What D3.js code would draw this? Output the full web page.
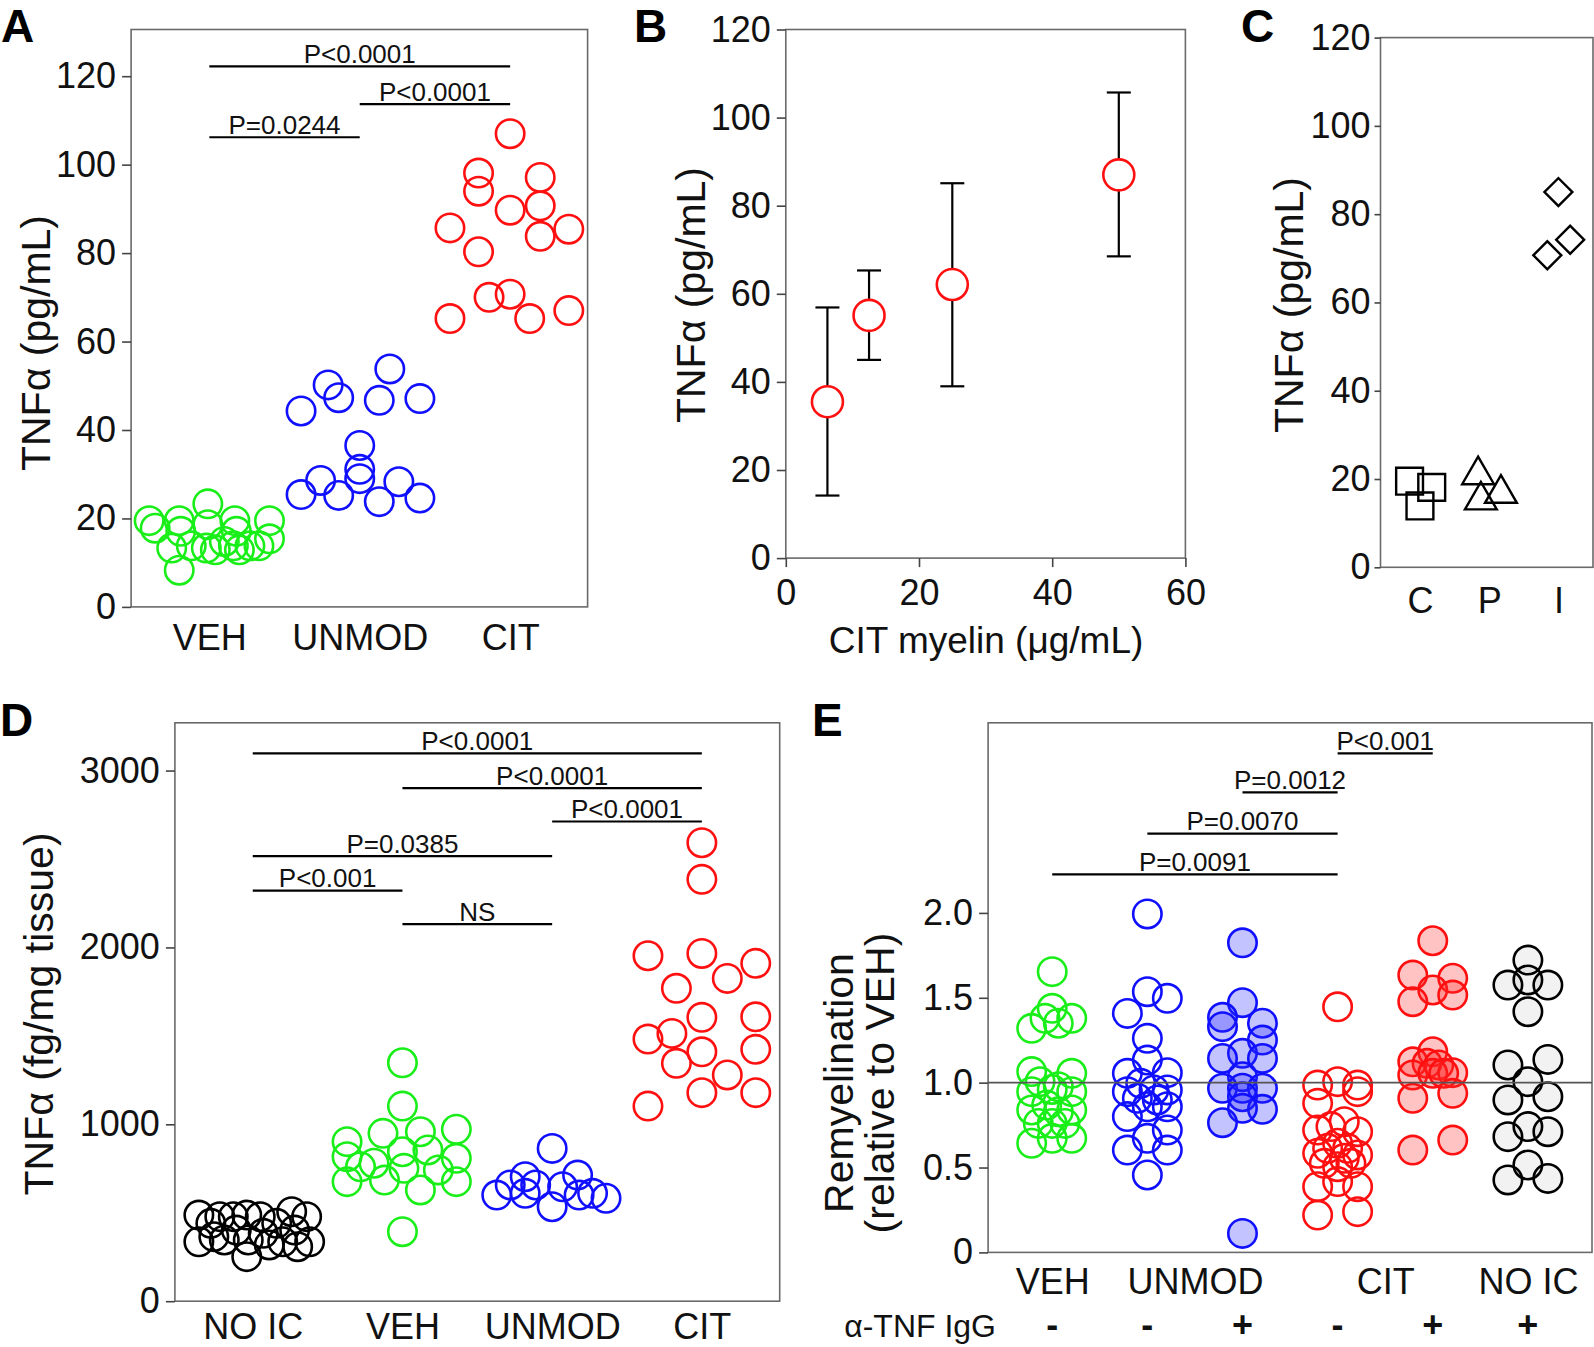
<!DOCTYPE html>
<html><head><meta charset="utf-8">
<script src="https://cdn.jsdelivr.net/npm/d3@7"></script>
<style>body{margin:0;background:#fff} svg{display:block}</style>
</head><body><script>
// ---------------- DATA ----------------
// Panel A
const aCategories = ['VEH','UNMOD','CIT'];
const aYTicks = [0,20,40,60,80,100,120];
const aVehValues = [19.5,17.8,19.5,17.1,13.3,8.3,13.8,23.3,18.6,13.3,12.9,14.8,19.5,17.1,13.8,12.9,13.8,13.8,19.5,15.4];
const aVehJitter = [-0.40,-0.36,-0.20,-0.19,-0.25,-0.20,-0.12,-0.01,-0.01,-0.02,0.04,0.10,0.17,0.18,0.16,0.20,0.27,0.33,0.40,0.40];
const aUnmodValues = [44.3,50.2,47.3,53.8,46.7,47.1,36.5,31.1,29.0,28.6,25.4,25.2,23.8,28.3,24.6];
const aUnmodJitter = [-0.39,-0.21,-0.14,0.20,0.13,0.40,0,0,0,-0.26,-0.39,-0.14,0.13,0.26,0.40];
const aCitValues = [107.0,98.1,94.0,97.1,89.7,90.7,85.7,85.4,83.8,80.3,70.0,70.7,65.2,65.2,67.0];
const aCitJitter = [0,-0.21,-0.21,0.20,0,0.20,-0.40,0.39,0.20,-0.21,-0.14,0,-0.40,0.13,0.39];
const aSigFrom = [0,1,0], aSigTo = [2,2,1], aSigLevel = [122.2,113.7,106.2];
const aSigLabels = ['P<0.0001','P<0.0001','P=0.0244'];

// Panel B
const bDose = [6.25,12.5,25,50];
const bMean = [35.5,55.1,62.1,87.0];
const bUpper = [56.9,65.3,85.1,105.7];
const bLower = [14.2,45.0,39.0,68.5];
const bYTicks = [0,20,40,60,80,100,120];
const bXTicks = [0,20,40,60];

// Panel C
const cCategories = ['C','P','I'];
const cYTicks = [0,20,40,60,80,100,120];
const cSquareValues = [19.5,18.1,13.9], cSquareJitter = [-0.15,0.17,0];
const cTriangleValues = [20.9,15.2,16.7], cTriangleJitter = [-0.16,-0.12,0.17];
const cDiamondValues = [85.0,74.2,70.7], cDiamondJitter = [0,0.17,-0.16];

// Panel D
const dCategories = ['NO IC','VEH','UNMOD','CIT'];
const dYTicks = [0,1000,2000,3000];
const dNoIcValues = [487,336,440,365,478,346,478,402,487,346,252,478,384,318,440,336,506,402,478,336,308];
const dNoIcJitter = [-0.36,-0.36,-0.28,-0.26,-0.22,-0.19,-0.13,-0.11,-0.04,-0.03,-0.04,0.05,0.07,0.11,0.16,0.20,0.26,0.28,0.36,0.38,0.30];
const dVehValues = [1348,1103,949,958,972,902,817,676,845,855,808,780,751,742,685,629,676,760,393];
const dVehJitter = [0,0,-0.13,0.12,0.36,-0.37,-0.37,-0.37,0,0.17,0.36,-0.19,0.01,0.24,-0.12,0.12,0.36,-0.28,0];
const dUnmodValues = [864,704,713,600,657,657,610,534,647,600,610,582];
const dUnmodJitter = [0,-0.18,0.17,-0.37,-0.28,-0.11,-0.18,0,0.07,0.18,0.27,0.36];
const dCitValues = [2592,2385,1953,1966,1910,1825,1769,1605,1608,1482,1514,1410,1424,1345,1279,1179,1179,1103];
const dCitJitter = [0,0,-0.36,0,0.36,0.17,-0.17,0,0.36,-0.36,-0.20,0,0.36,-0.17,0.17,0,0.36,-0.36];
const dSigFrom = [0,1,2,0,0,1], dSigTo = [3,3,3,2,1,2];
const dSigLevel = [3097,2901,2712,2516,2321,2132];
const dSigLabels = ['P<0.0001','P<0.0001','P<0.0001','P=0.0385','P<0.001','NS'];

// Panel E
const eGroupLabels = ['VEH','UNMOD','CIT','NO IC'];
const eGroupLabelPos = [0,1.5,3.5,5];
const eAntiTnf = ['-','-','+','-','+','+'];
const eYTicks = [0,0.5,1,1.5,2];
const eYTickLabels = ['0','0.5','1.0','1.5','2.0'];
const eRefLevel = 1.0;
const eVehValues = [1.654,1.438,1.379,1.320,1.350,1.379,1.065,1.055,1.006,0.976,0.947,0.947,0.960,0.868,0.839,0.829,0.839,0.760,0.760,0.760,0.643,0.672,0.672];
const eVehJitter = [0,0,-0.076,-0.216,0.064,0.205,-0.216,0.205,-0.128,0.064,-0.216,0.205,0,-0.058,-0.216,0.064,0.205,-0.146,0,0.134,-0.216,0,0.205];
const eUnmodMinusValues = [1.994,1.536,1.497,1.408,1.261,1.133,1.055,1.059,0.947,0.996,0.957,0.957,0.908,0.898,0.800,0.858,0.858,0.721,0.672,0.603,0.603,0.456];
const eUnmodMinusJitter = [0,0,0.21,-0.21,0,0,-0.21,0.21,-0.21,-0.07,0.07,0.21,-0.105,0.105,-0.21,0,0.21,0.21,0,-0.21,0.21,0];
const eUnmodPlusValues = [1.824,1.471,1.385,1.330,1.350,1.251,1.173,1.143,1.143,1.035,0.967,0.967,0.967,0.917,0.843,0.849,0.764,0.112];
const eUnmodPlusJitter = [0,0,-0.21,-0.21,0.21,0.21,0,-0.21,0.21,0,-0.21,0,0.21,0,0.21,0,-0.21,0];
const eCitMinusValues = [1.447,0.986,1.006,0.986,0.947,0.878,0.721,0.741,0.770,0.711,0.584,0.613,0.643,0.613,0.574,0.525,0.505,0.525,0.554,0.387,0.387,0.417,0.220,0.240];
const eCitMinusJitter = [0,-0.21,0,0.21,0.21,-0.21,-0.21,-0.07,0.07,0.21,-0.21,-0.105,0,0.105,0.21,-0.14,0,0.14,0.07,-0.21,0.21,0,-0.21,0.21];
const eCitPlusValues = [1.836,1.634,1.615,1.546,1.477,1.516,1.182,1.123,1.114,1.104,1.059,1.045,1.055,1.055,0.908,0.937,0.603,0.662];
const eCitPlusJitter = [0,-0.21,0.21,0,-0.21,0.21,0,-0.21,-0.06,0.063,0.21,-0.21,0,0.115,-0.21,0.21,-0.21,0.21];
const eNoIcValues = [1.722,1.575,1.575,1.605,1.418,1.104,1.137,1.006,0.898,0.917,0.741,0.682,0.711,0.515,0.427,0.436];
const eNoIcJitter = [0,-0.21,0.21,0,0,-0.21,0.21,0,-0.21,0.21,0,-0.21,0.21,0,-0.21,0.21];
const eSigFrom = [3,2,1,0], eSigTo = [4,3,3,3];
const eSigLevel = [2.94,2.71,2.467,2.227];
const eSigLabels = ['P<0.001','P=0.0012','P=0.0070','P=0.0091'];

// ---------------- STYLE ----------------
const FONT = '"Liberation Sans", Arial, Helvetica, sans-serif';
const GREEN = '#19ee19', BLUE = '#1010ff', RED = '#ff1010', BLACK = '#000';
const R = 14.2, SW = 2.6;
const TICK_FS = 36, TITLE_FS = 41, P_FS = 26, LETTER_FS = 46;
const FRAME = '#6a6a6a';

const svg = d3.select('body').append('svg').attr('width',1594).attr('height',1347)
  .style('font-family', FONT);

function frame(g, x, y){
  const [x0,x1] = x.range(), [y1,y0] = y.range();
  g.append('rect').attr('x',x0).attr('y',y0).attr('width',x1-x0).attr('height',y1-y0)
    .attr('fill','none').attr('stroke',FRAME).attr('stroke-width',1.6);
}
function styleAxis(sel, fs){
  sel.attr('font-size',null).attr('font-family',null);
  sel.select('.domain').remove();
  sel.selectAll('.tick line').attr('stroke','#444').attr('stroke-width',1.6);
  sel.selectAll('.tick text').attr('font-size',fs).attr('fill','#111');
}
function yAxis(g, x, y, ticks, labels, size, pad){
  const ax = d3.axisLeft(y).tickValues(ticks).tickSize(size||9).tickPadding(pad==null?6:pad);
  if (labels) ax.tickFormat((d,i)=>labels[i]); else ax.tickFormat(d3.format('d'));
  g.append('g').attr('transform',`translate(${x.range()[0]},0)`).call(ax).call(s=>styleAxis(s,TICK_FS));
}
function catAxis(g, x, y, pos, labels, pad){
  const ax = d3.axisBottom(x).tickValues(pos).tickFormat((d,i)=>labels[i]).tickSize(0).tickPadding(pad);
  g.append('g').attr('transform',`translate(0,${y.range()[0]})`).call(ax).call(s=>styleAxis(s,TICK_FS));
}
function yTitle(g, cx, cy, txt){
  g.append('text').attr('transform',`translate(${cx},${cy}) rotate(-90)`).attr('text-anchor','middle')
    .attr('dy','0.35em').attr('font-size',TITLE_FS).attr('fill','#111').text(txt);
}
function circles(g, x, y, idx, vals, jit, color, fill, r){
  g.append('g').selectAll('circle').data(vals).enter().append('circle')
    .attr('cx',(d,i)=>x(idx+jit[i])).attr('cy',d=>y(d)).attr('r',r||R)
    .attr('fill',fill||'none').attr('stroke',color).attr('stroke-width',SW);
}
function sig(g, x, y, from, to, lev, labels){
  from.forEach((f,i)=>{
    g.append('line').attr('x1',x(f)).attr('x2',x(to[i])).attr('y1',y(lev[i])).attr('y2',y(lev[i]))
      .attr('stroke','#000').attr('stroke-width',2.2);
    g.append('text').attr('x',(x(f)+x(to[i]))/2).attr('y',y(lev[i])-3.5).attr('text-anchor','middle')
      .attr('font-size',P_FS).attr('fill','#111').text(labels[i]);
  });
}
function letter(txt, x, y){
  svg.append('text').attr('x',x).attr('y',y).attr('font-size',LETTER_FS).attr('font-weight','bold')
    .attr('fill','#000').text(txt);
}

// ---------------- PANEL A ----------------
{
  const g = svg.append('g');
  const x = d3.scaleLinear().domain([-0.52,2.515]).range([131.1,587.6]);
  const y = d3.scaleLinear().domain([0,130.56]).range([606.9,29.5]);
  frame(g,x,y);
  yAxis(g,x,y,aYTicks);
  catAxis(g,x,y,[0,1,2],aCategories,18);
  yTitle(g,36,343,'TNFα (pg/mL)');
  circles(g,x,y,0,aVehValues,aVehJitter,GREEN);
  circles(g,x,y,1,aUnmodValues,aUnmodJitter,BLUE);
  circles(g,x,y,2,aCitValues,aCitJitter,RED);
  sig(g,x,y,aSigFrom,aSigTo,aSigLevel,aSigLabels);
  letter('A',1,42);
}

// ---------------- PANEL B ----------------
{
  const g = svg.append('g');
  const x = d3.scaleLinear().domain([0,60]).range([785.8,1185.4]);
  const y = d3.scaleLinear().domain([0,120]).range([558.1,29.5]);
  frame(g,x,y);
  yAxis(g,x,y,bYTicks);
  const ax = d3.axisBottom(x).tickValues(bXTicks).tickSize(9).tickPadding(12).tickFormat(d3.format('d'));
  g.append('g').attr('transform',`translate(0,${y.range()[0]})`).call(ax).call(s=>styleAxis(s,TICK_FS));
  g.append('text').attr('x',986).attr('y',653).attr('text-anchor','middle').attr('font-size',37)
    .attr('fill','#111').text('CIT myelin (μg/mL)');
  yTitle(g,691,295,'TNFα (pg/mL)');
  const eb = g.append('g');
  bDose.forEach((d,i)=>{
    eb.append('line').attr('x1',x(d)).attr('x2',x(d)).attr('y1',y(bLower[i])).attr('y2',y(bUpper[i]))
      .attr('stroke','#000').attr('stroke-width',2.2);
    [bLower[i],bUpper[i]].forEach(v=>eb.append('line').attr('x1',x(d)-12).attr('x2',x(d)+12)
      .attr('y1',y(v)).attr('y2',y(v)).attr('stroke','#000').attr('stroke-width',2.2));
  });
  g.append('g').selectAll('circle').data(bMean).enter().append('circle')
    .attr('cx',(d,i)=>x(bDose[i])).attr('cy',d=>y(d)).attr('r',15.5)
    .attr('fill','#fff').attr('stroke',RED).attr('stroke-width',SW);
  letter('B',634,42);
}

// ---------------- PANEL C ----------------
{
  const g = svg.append('g');
  const x = d3.scaleLinear().domain([-0.57,2.5]).range([1380.5,1593]);
  const y = d3.scaleLinear().domain([0,120]).range([567.3,37.6]);
  frame(g,x,y);
  yAxis(g,x,y,cYTicks,null,6,4);
  catAxis(g,x,y,[0,1,2],cCategories,20);
  yTitle(g,1289,305,'TNFα (pg/mL)');
  const sym = (type,size,rot,vals,jit,idx)=>{
    g.append('g').selectAll('path').data(vals).enter().append('path')
      .attr('d',d3.symbol().type(type).size(size)())
      .attr('transform',(d,i)=>`translate(${x(idx+jit[i])},${y(d)}) rotate(${rot})`)
      .attr('fill','none').attr('stroke','#000').attr('stroke-width',2.4);
  };
  sym(d3.symbolSquare,720,0,cSquareValues,cSquareJitter,0);
  sym(d3.symbolTriangle,440,0,cTriangleValues,cTriangleJitter,1);
  sym(d3.symbolSquare,390,45,cDiamondValues,cDiamondJitter,2);
  letter('C',1241,42);
}

// ---------------- PANEL D ----------------
{
  const g = svg.append('g');
  const x = d3.scaleLinear().domain([-0.52,3.52]).range([174.9,779.7]);
  const y = d3.scaleLinear().domain([0,3270]).range([1301.2,722.8]);
  frame(g,x,y);
  yAxis(g,x,y,dYTicks);
  catAxis(g,x,y,[0,1,2,3],dCategories,12.5);
  yTitle(g,39,1014,'TNFα (fg/mg tissue)');
  circles(g,x,y,0,dNoIcValues,dNoIcJitter,BLACK);
  circles(g,x,y,1,dVehValues,dVehJitter,GREEN);
  circles(g,x,y,2,dUnmodValues,dUnmodJitter,BLUE);
  circles(g,x,y,3,dCitValues,dCitJitter,RED);
  sig(g,x,y,dSigFrom,dSigTo,dSigLevel,dSigLabels);
  letter('D',0,736);
}

// ---------------- PANEL E ----------------
{
  const g = svg.append('g');
  const x = d3.scaleLinear().domain([-0.674,5.674]).range([988.1,1592]);
  const y = d3.scaleLinear().domain([0,3.12]).range([1252.4,722.8]);
  frame(g,x,y);
  yAxis(g,x,y,eYTicks,eYTickLabels);
  catAxis(g,x,y,eGroupLabelPos,eGroupLabels,16);
  yTitle(g,839,1083,'Remyelination');
  yTitle(g,880,1083,'(relative to VEH)');
  circles(g,x,y,0,eVehValues,eVehJitter,GREEN);
  circles(g,x,y,1,eUnmodMinusValues,eUnmodMinusJitter,BLUE);
  circles(g,x,y,2,eUnmodPlusValues,eUnmodPlusJitter,BLUE,'rgba(40,40,255,0.28)');
  circles(g,x,y,3,eCitMinusValues,eCitMinusJitter,RED);
  circles(g,x,y,4,eCitPlusValues,eCitPlusJitter,RED,'rgba(255,40,40,0.28)');
  circles(g,x,y,5,eNoIcValues,eNoIcJitter,BLACK,'rgba(0,0,0,0.05)');
  g.append('line').attr('x1',x.range()[0]).attr('x2',x.range()[1]).attr('y1',y(eRefLevel)).attr('y2',y(eRefLevel))
    .attr('stroke','#555').attr('stroke-width',1.6);
  sig(g,x,y,eSigFrom,eSigTo,eSigLevel,eSigLabels);
  g.append('text').attr('x',996).attr('y',1337).attr('text-anchor','end').attr('font-size',32)
    .attr('fill','#111').text('α-TNF IgG');
  g.append('g').selectAll('text').data(eAntiTnf).enter().append('text')
    .attr('x',(d,i)=>x(i)).attr('y',1337).attr('text-anchor','middle').attr('font-size',36)
    .attr('font-weight','bold').attr('fill','#111').text(d=>d);
  letter('E',812,736);
}
</script></body></html>
